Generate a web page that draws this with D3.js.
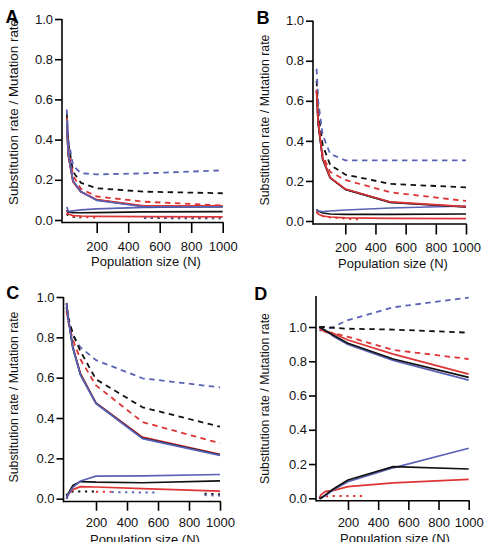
<!DOCTYPE html>
<html><head><meta charset="utf-8">
<script src="https://cdn.jsdelivr.net/npm/d3@7"></script>
<style>body{margin:0;background:#fff} svg{display:block}</style>
</head><body><svg id="c" width="484" height="542"></svg>
<script>
// ---------- data ----------
const nMain = [10, 20, 50, 100, 200, 500, 1000];
const nDot  = [10, 20, 50, 100, 200, 300, 400, 500, 600, 700, 800, 900, 1000];
const xTicks = [200, 400, 600, 800, 1000];
const yTicks = [0, 0.2, 0.4, 0.6, 0.8, 1.0];
const panelLabels = ["A", "B", "C", "D"];
const yTitle = "Substitution rate / Mutation rate";
const xTitle = "Population size (N)";

// Panel A
const A_hi_black = [0.47, 0.32, 0.19, 0.14, 0.100, 0.068, 0.066];
const A_hi_red   = [0.47, 0.32, 0.19, 0.14, 0.101, 0.070, 0.071];
const A_hi_blue  = [0.48, 0.33, 0.195, 0.14, 0.098, 0.066, 0.066];
const A_da_black = [0.53, 0.38, 0.24, 0.185, 0.158, 0.141, 0.133];
const A_da_red   = [0.51, 0.36, 0.22, 0.155, 0.117, 0.091, 0.072];
const A_da_blue  = [0.55, 0.40, 0.27, 0.233, 0.227, 0.232, 0.247];
const A_lo_black = [0.050, 0.040, 0.036, 0.036, 0.037, 0.040, 0.042];
const A_lo_red   = [0.045, 0.030, 0.022, 0.020, 0.018, 0.017, 0.016];
const A_lo_blue  = [0.065, 0.042, 0.045, 0.050, 0.055, 0.063, 0.068];
const A_do_black = [0.030, 0.022, 0.016, 0.012, null, null, null, 0.010, 0.010, 0.009, 0.009, 0.009, 0.009];
const A_do_red   = [0.035, 0.027, 0.020, 0.015, 0.012, null, null, null, null, null, null, null, null];
const A_do_blue  = [null, null, null, null, null, null, null, 0.011, 0.011, 0.011, 0.011, 0.011, 0.011];

// Panel B
const B_hi_black = [0.65, 0.49, 0.31, 0.215, 0.158, 0.093, 0.070];
const B_hi_blue  = [0.65, 0.49, 0.31, 0.215, 0.158, 0.093, 0.070];
const B_hi_red   = [0.655, 0.50, 0.313, 0.218, 0.160, 0.095, 0.072];
const B_da_black = [0.70, 0.55, 0.38, 0.28, 0.232, 0.185, 0.168];
const B_da_red   = [0.65, 0.50, 0.33, 0.245, 0.205, 0.143, 0.100];
const B_da_blue  = [0.76, 0.60, 0.43, 0.335, 0.303, 0.303, 0.303];
const B_lo_black = [0.058, 0.050, 0.040, 0.035, 0.033, 0.033, 0.035];
const B_lo_red   = [0.050, 0.035, 0.025, 0.020, 0.016, 0.013, 0.012];
const B_lo_blue  = [0.058, 0.050, 0.047, 0.050, 0.055, 0.065, 0.075];
const B_do_red   = [0.045, 0.035, 0.025, 0.018, 0.012, 0.008, null, null, null, null, null, null, null];

// Panel C
const C_hi_red   = [0.97, 0.90, 0.755, 0.62, 0.475, 0.305, 0.220];
const C_hi_black = [0.97, 0.90, 0.75, 0.615, 0.473, 0.300, 0.217];
const C_hi_blue  = [0.97, 0.90, 0.75, 0.613, 0.472, 0.298, 0.215];
const C_da_black = [0.95, 0.90, 0.82, 0.73, 0.592, 0.453, 0.357];
const C_da_red   = [0.93, 0.88, 0.79, 0.69, 0.562, 0.380, 0.275];
const C_da_blue  = [0.95, 0.90, 0.81, 0.75, 0.687, 0.597, 0.552];
const C_lo_black = [0.0, 0.025, 0.065, 0.085, 0.082, 0.079, 0.088];
const C_lo_red   = [0.0, 0.020, 0.045, 0.060, 0.058, 0.050, 0.038];
const C_lo_blue  = [0.0, 0.020, 0.055, 0.088, 0.112, 0.113, 0.120];
const C_do_black = [0.015, 0.030, 0.036, 0.036, 0.036, null, null, null, null, null, null, 0.025, 0.022];
const C_do_red   = [null, null, null, null, 0.035, 0.034, null, null, null, null, null, null, null];
const C_do_blue  = [null, null, null, null, null, 0.033, 0.032, 0.031, 0.031, null, null, 0.018, 0.015];

// Panel D
const D_hi_red   = [1.0, 0.99, 0.97, 0.963, 0.924, 0.842, 0.725];
const D_hi_blue  = [1.0, 0.995, 0.98, 0.948, 0.898, 0.805, 0.690];
const D_hi_black = [1.0, 0.995, 0.98, 0.953, 0.905, 0.813, 0.706];
const D_da_black = [1.0, 1.0, 1.0, 0.995, 0.990, 0.985, 0.967];
const D_da_red   = [1.0, 0.985, 0.973, 0.965, 0.943, 0.866, 0.813];
const D_da_blue  = [0.98, 0.98, 0.985, 1.0, 1.040, 1.115, 1.172];
const D_lo_red   = [0.0, 0.020, 0.040, 0.045, 0.068, 0.090, 0.110];
const D_lo_blue  = [0.0, 0.0, 0.015, 0.048, 0.097, 0.178, 0.292];
const D_lo_black = [0.0, 0.0, 0.020, 0.053, 0.107, 0.185, 0.171];
const D_do_red   = [0.005, 0.010, 0.012, 0.013, 0.013, 0.013, null, null, null, null, null, null, null];

// ---------- styles ----------
const COL = { black: "#111111", red: "#dd3535", blue: "#5a62b5" };
const STY = {
  solid:  { w: 1.7, dash: null },
  dashed: { w: 1.8, dash: "5.5,4.5" },
  dotted: { w: 2.0, dash: "2.2,4.6" }
};
const FONT = "'Liberation Sans', Arial, Helvetica, sans-serif";

function S(n, v, c, s) { return { n, v, c, s }; }

const panels = [
  { lab: "A", axisX: 62, x0: 65.2, x1: 222.7, y0: 220, y1: 19, yTop: 19, axisY: 222.5, tick: 10.5, pad: 8.5,
    letter: [5.5, 22.8], ytX: 18.3, ytY: 112, ytSize: 13.4, xtX: 146, xtY: 266,
    series: [
      S(nDot, A_do_black, "black", "dotted"), S(nDot, A_do_red, "red", "dotted"), S(nDot, A_do_blue, "blue", "dotted"),
      S(nMain, A_lo_red, "red", "solid"), S(nMain, A_lo_black, "black", "solid"), S(nMain, A_lo_blue, "blue", "solid"),
      S(nMain, A_da_black, "black", "dashed"), S(nMain, A_da_red, "red", "dashed"), S(nMain, A_da_blue, "blue", "dashed"),
      S(nMain, A_hi_black, "black", "solid"), S(nMain, A_hi_red, "red", "solid"), S(nMain, A_hi_blue, "blue", "solid")
    ] },
  { lab: "B", axisX: 313, x0: 315.1, x1: 466, y0: 221, y1: 20.7, yTop: 20.7, axisY: 224, tick: 10.5, pad: 8.5,
    letter: [256.5, 24], ytX: 268.5, ytY: 120, ytSize: 12.3, xtX: 393, xtY: 267.5,
    series: [
      S(nDot, B_do_red, "red", "dotted"),
      S(nMain, B_lo_red, "red", "solid"), S(nMain, B_lo_black, "black", "solid"), S(nMain, B_lo_blue, "blue", "solid"),
      S(nMain, B_da_black, "black", "dashed"), S(nMain, B_da_red, "red", "dashed"), S(nMain, B_da_blue, "blue", "dashed"),
      S(nMain, B_hi_blue, "blue", "solid"), S(nMain, B_hi_black, "black", "solid"), S(nMain, B_hi_red, "red", "solid")
    ] },
  { lab: "C", axisX: 63.5, x0: 65, x1: 220, y0: 498.7, y1: 297, yTop: 297, axisY: 501.5, tick: 9.2, pad: 7.5,
    letter: [6.2, 299.3], ytX: 17.5, ytY: 397, ytSize: 12.3, xtX: 145, xtY: 544,
    series: [
      S(nDot, C_do_black, "black", "dotted"), S(nDot, C_do_red, "red", "dotted"), S(nDot, C_do_blue, "blue", "dotted"),
      S(nMain, C_lo_red, "red", "solid"), S(nMain, C_lo_black, "black", "solid"), S(nMain, C_lo_blue, "blue", "solid"),
      S(nMain, C_da_blue, "blue", "dashed"), S(nMain, C_da_black, "black", "dashed"), S(nMain, C_da_red, "red", "dashed"),
      S(nMain, C_hi_red, "red", "solid"), S(nMain, C_hi_black, "black", "solid"), S(nMain, C_hi_blue, "blue", "solid")
    ] },
  { lab: "D", axisX: 316, x0: 317.8, x1: 468.7, y0: 498.3, y1: 327, yTop: 296, axisY: 500.7, tick: 9.3, pad: 7.5,
    letter: [254.2, 300.3], ytX: 269, ytY: 398.5, ytSize: 12.3, xtX: 395, xtY: 542.5,
    series: [
      S(nDot, D_do_red, "red", "dotted"),
      S(nMain, D_lo_red, "red", "solid"), S(nMain, D_lo_blue, "blue", "solid"), S(nMain, D_lo_black, "black", "solid"),
      S(nMain, D_da_blue, "blue", "dashed"), S(nMain, D_da_black, "black", "dashed"), S(nMain, D_da_red, "red", "dashed"),
      S(nMain, D_hi_red, "red", "solid"), S(nMain, D_hi_blue, "blue", "solid"), S(nMain, D_hi_black, "black", "solid")
    ] }
];

const svg = d3.select("#c");

panels.forEach(p => {
  const g = svg.append("g");
  const x = d3.scaleLinear().domain([0, 1000]).range([p.x0, p.x1]);
  const y = d3.scaleLinear().domain([0, 1]).range([p.y0, p.y1]);

  // series
  const line = d3.line().defined(d => d[1] != null).x(d => x(d[0])).y(d => y(d[1]));
  p.series.forEach(s => {
    const pts = s.n.map((n, i) => [n, s.v[i]]);
    const st = STY[s.s];
    g.append("path")
      .attr("d", line(pts))
      .attr("fill", "none")
      .attr("stroke", COL[s.c])
      .attr("stroke-width", st.w)
      .attr("stroke-linejoin", "round")
      .attr("stroke-dasharray", st.dash);
  });

  // x axis
  const xa = g.append("g").attr("transform", `translate(0,${p.axisY})`)
    .call(d3.axisBottom(x).tickValues(xTicks).tickSize(p.tick).tickPadding(p.pad).tickFormat(d3.format("d")));
  xa.select(".domain").remove();
  xa.selectAll("line").attr("stroke", "#000").attr("stroke-width", 1.6);
  xa.selectAll("text").attr("font-family", FONT).attr("font-size", 13).attr("fill", "#111");
  g.append("line").attr("x1", p.axisX).attr("x2", x(1000) + 0.8).attr("y1", p.axisY).attr("y2", p.axisY)
    .attr("stroke", "#000").attr("stroke-width", 1.6);

  // y axis
  const ya = g.append("g").attr("transform", `translate(${p.axisX},0)`)
    .call(d3.axisLeft(y).tickValues(yTicks).tickSize(7).tickPadding(2).tickFormat(d3.format(".1f")));
  ya.select(".domain").remove();
  ya.selectAll("line").attr("stroke", "#000").attr("stroke-width", 1.6);
  ya.selectAll("text").attr("font-family", FONT).attr("font-size", 13).attr("fill", "#111");
  g.append("line").attr("x1", p.axisX).attr("x2", p.axisX).attr("y1", p.yTop).attr("y2", p.axisY + 0.8)
    .attr("stroke", "#000").attr("stroke-width", 1.6);

  // titles
  g.append("text").attr("x", p.xtX).attr("y", p.xtY).attr("text-anchor", "middle")
    .attr("font-family", FONT).attr("font-size", 13).attr("fill", "#111").text(xTitle);
  g.append("text").attr("transform", `translate(${p.ytX},${p.ytY}) rotate(-90)`).attr("text-anchor", "middle")
    .attr("font-family", FONT).attr("font-size", p.ytSize).attr("fill", "#111").text(yTitle);
  g.append("text").attr("x", p.letter[0]).attr("y", p.letter[1])
    .attr("font-family", FONT).attr("font-size", 18).attr("font-weight", "bold").attr("fill", "#000").text(p.lab);
});
</script>
</body></html>
